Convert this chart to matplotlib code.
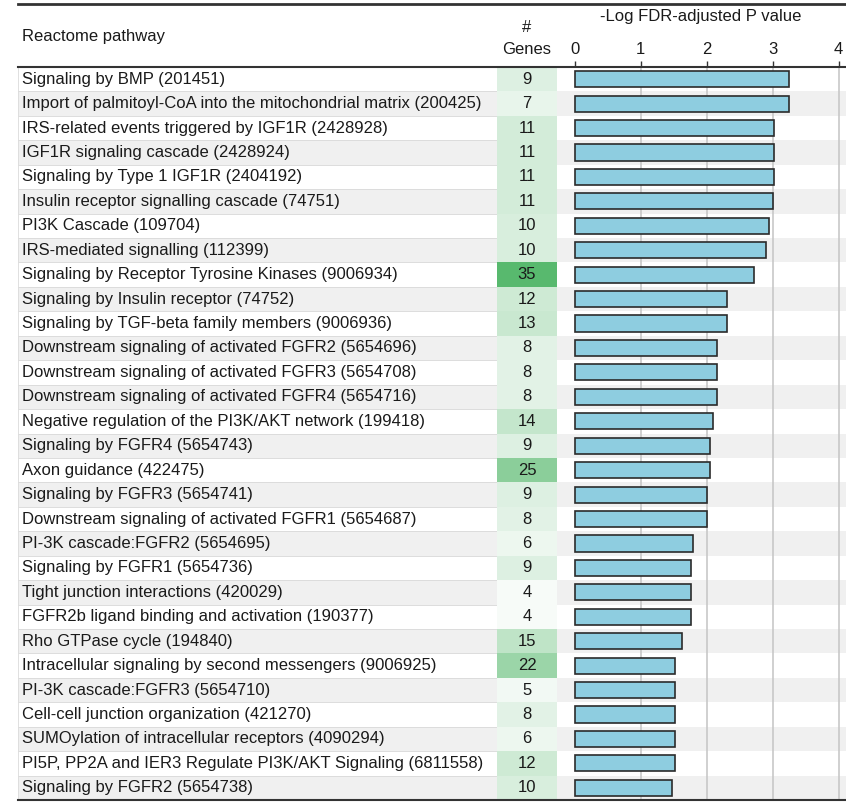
import numpy as np
import matplotlib.pyplot as plt
from matplotlib.lines import Line2D
from matplotlib.colors import LinearSegmentedColormap, Normalize

pathways = [
    "Signaling by BMP (201451)",
    "Import of palmitoyl-CoA into the mitochondrial matrix (200425)",
    "IRS-related events triggered by IGF1R (2428928)",
    "IGF1R signaling cascade (2428924)",
    "Signaling by Type 1 IGF1R (2404192)",
    "Insulin receptor signalling cascade (74751)",
    "PI3K Cascade (109704)",
    "IRS-mediated signalling (112399)",
    "Signaling by Receptor Tyrosine Kinases (9006934)",
    "Signaling by Insulin receptor (74752)",
    "Signaling by TGF-beta family members (9006936)",
    "Downstream signaling of activated FGFR2 (5654696)",
    "Downstream signaling of activated FGFR3 (5654708)",
    "Downstream signaling of activated FGFR4 (5654716)",
    "Negative regulation of the PI3K/AKT network (199418)",
    "Signaling by FGFR4 (5654743)",
    "Axon guidance (422475)",
    "Signaling by FGFR3 (5654741)",
    "Downstream signaling of activated FGFR1 (5654687)",
    "PI-3K cascade:FGFR2 (5654695)",
    "Signaling by FGFR1 (5654736)",
    "Tight junction interactions (420029)",
    "FGFR2b ligand binding and activation (190377)",
    "Rho GTPase cycle (194840)",
    "Intracellular signaling by second messengers (9006925)",
    "PI-3K cascade:FGFR3 (5654710)",
    "Cell-cell junction organization (421270)",
    "SUMOylation of intracellular receptors (4090294)",
    "PI5P, PP2A and IER3 Regulate PI3K/AKT Signaling (6811558)",
    "Signaling by FGFR2 (5654738)",
]
genes = [9, 7, 11, 11, 11, 11, 10, 10, 35, 12, 13, 8, 8, 8, 14,
         9, 25, 9, 8, 6, 9, 4, 4, 15, 22, 5, 8, 6, 12, 10]
neg_log_fdr = [3.25, 3.25, 3.02, 3.02, 3.02, 3.00, 2.94, 2.90, 2.72, 2.31,
               2.31, 2.15, 2.15, 2.15, 2.10, 2.05, 2.05, 2.01, 2.01, 1.80,
               1.76, 1.76, 1.76, 1.63, 1.52, 1.52, 1.52, 1.52, 1.52, 1.48]
x_ticks = [0, 1, 2, 3, 4]

plt.rcParams['font.family'] = ['Liberation Sans', 'DejaVu Sans']
FS = 12
TXT = '#1a1a1a'

W, H = 846, 802
fig = plt.figure(figsize=(W / 100, H / 100), dpi=100)


def px_axes(x0, x1, y0, y1):
    # axes placed by pixel box of the reference image
    return fig.add_axes([x0 / W, 1 - y1 / H, (x1 - x0) / W, (y1 - y0) / H])


top_px, bot_px = 67, 800
n = len(pathways)
rows = np.arange(n)

ax_lab = px_axes(18, 497, top_px, bot_px)
ax_gene = px_axes(497, 557, top_px, bot_px)
ax_bar = px_axes(557, 846, top_px, bot_px)

for ax in (ax_lab, ax_gene, ax_bar):
    ax.set_ylim(n - 0.5, -0.5)
    for s in ax.spines.values():
        s.set_visible(False)
    ax.tick_params(left=False, labelleft=False, bottom=False, labelbottom=False)

# pathway names with alternating stripes
stripe = ['white' if i % 2 == 0 else '#f0f0f0' for i in rows]
ax_lab.set_xlim(0, 1)
ax_lab.barh(rows, 1, height=1, left=0, color=stripe, edgecolor='#dadada', linewidth=0.6)
for i, name in enumerate(pathways):
    ax_lab.text(0.009, i, name, va='center', ha='left', fontsize=FS, color=TXT)

# gene counts as a green heat column
cmap = LinearSegmentedColormap.from_list('greens', ['#f7fbf8', '#58b96e'])
norm = Normalize(vmin=min(genes), vmax=max(genes))
ax_gene.set_xlim(0, 1)
ax_gene.barh(rows, 1, height=1, left=0, color=cmap(norm(genes)), edgecolor='none')
for i, g in enumerate(genes):
    ax_gene.text(0.5, i, str(g), va='center', ha='center', fontsize=FS, color=TXT)

# bars
ax_bar.set_xlim(-0.265, 4.11)
for i in rows:
    if i % 2 == 1:
        ax_bar.axhspan(i - 0.5, i + 0.5, color='#f0f0f0', lw=0, zorder=0)
for t in x_ticks[1:]:
    ax_bar.axvline(t, color='#c4c4c4', lw=1.1, zorder=1)
ax_bar.barh(rows, neg_log_fdr, height=0.66, color='#8ecde0',
            edgecolor='#2b2b2b', linewidth=1.2, zorder=3)
ax_bar.set_xticks(x_ticks)
ax_bar.xaxis.set_ticks_position('top')
ax_bar.tick_params(top=True, labeltop=True, direction='out', length=4, width=1,
                   color='#333333', labelsize=FS, pad=3, labelcolor=TXT)

# header texts
fig.text(22 / W, 1 - 36 / H, "Reactome pathway", ha='left', va='center', fontsize=FS, color=TXT)
fig.text(527 / W, 1 - 27 / H, "#", ha='center', va='center', fontsize=FS, color=TXT)
fig.text(527 / W, 1 - 49 / H, "Genes", ha='center', va='center', fontsize=FS, color=TXT)
fig.text(701 / W, 1 - 16 / H, "-Log FDR-adjusted P value", ha='center', va='center', fontsize=FS, color=TXT)

# table rules
fig.add_artist(Line2D([18 / W, 1], [1 - 4 / H, 1 - 4 / H], color='#333333', lw=2))
fig.add_artist(Line2D([18 / W, 1], [1 - top_px / H, 1 - top_px / H], color='#333333', lw=1.5))
fig.add_artist(Line2D([18 / W, 1], [1 - bot_px / H, 1 - bot_px / H], color='#333333', lw=1.5))

fig.savefig('out.png', dpi=100)
